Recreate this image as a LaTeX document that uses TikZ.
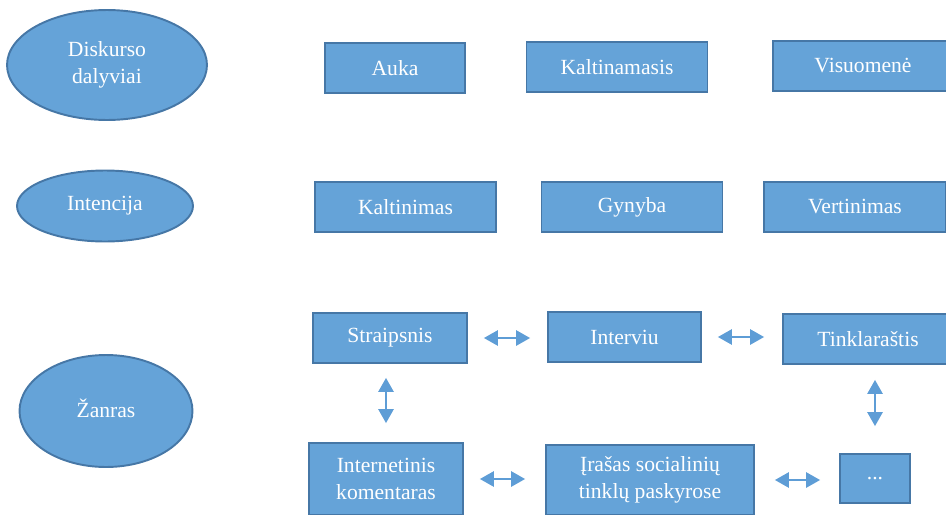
\documentclass[tikz,border=0pt]{standalone}
\usepackage{fontspec}
\setmainfont{Liberation Serif}
\usepackage{tikz}
\usepackage{xcolor}
\usetikzlibrary{
    arrows.meta,
    shapes,
    calc,
    positioning
}
\definecolor{boxfill}{HTML}{65A3D8}
\definecolor{boxline}{HTML}{4677A6}
\definecolor{arrowblue}{HTML}{5E9DD6}
\tikzset{
    base/.style={fill=boxfill, draw=boxline, line width=1.1pt, text=white, inner sep=0pt,
        align=center, font=\fontsize{12.3}{15.3}\selectfont},
    oval/.style={base, ellipse},
    box/.style={base, rectangle},
    twoway/.style={{Triangle[length=0.28cm,width=0.31cm]}-{Triangle[length=0.28cm,width=0.31cm]},
        draw=arrowblue, line width=0.75pt}
}

\begin{document}
\begin{tikzpicture}[x=0.02cm, y=-0.02cm]
    \useasboundingbox (0,0) rectangle (946,514);
    \clip (0,0) rectangle (946,514);
    \node[oval, minimum width=4cm, minimum height=2.2cm] (disk) at (107, 65) {Diskurso\\dalyviai};
    \node[oval, minimum width=3.52cm, minimum height=1.42cm] (inten) at (105, 206) {Intencija};
    \node[oval, minimum width=3.46cm, minimum height=2.24cm] (zanr) at (106, 411) {\raisebox{3pt}{Žanras}};

    \node[box, minimum width=2.8cm, minimum height=1cm] (auka) at (395, 68) {Auka};
    \node[box, minimum width=3.62cm, minimum height=1cm] (kltm) at (617, 67) {Kaltinamasis};
    \node[box, minimum width=3.6cm, minimum height=1cm] (visu) at (863, 66) {Visuomenė};

    \node[box, minimum width=3.62cm, minimum height=1cm] (kalt) at (405.5, 207) {Kaltinimas};
    \node[box, minimum width=3.62cm, minimum height=1cm] (gyn) at (632, 207) {Gynyba};
    \node[box, minimum width=3.64cm, minimum height=1cm] (vert) at (855, 207) {Vertinimas};

    \node[box, minimum width=3.08cm, minimum height=1cm] (strp) at (390, 338) {Straipsnis};
    \node[box, minimum width=3.06cm, minimum height=1cm] (intv) at (624.5, 337) {Interviu};
    \node[box, minimum width=3.4cm, minimum height=1cm] (tink) at (868, 339) {Tinklaraštis};
    \node[box, minimum width=3.08cm, minimum height=1.44cm] (ikom) at (386, 479) {Internetinis\\komentaras};
    \node[box, minimum width=4.16cm, minimum height=1.4cm] (iras) at (650, 480) {Įrašas socialinių\\tinklų paskyrose};
    \node[box, minimum width=1.4cm, minimum height=0.98cm] (dots) at (875, 478.5) {...};

    \draw[twoway, shorten <=0.32cm, shorten >=0.34cm] (strp.east) -- (strp.east -| intv.west);
    \draw[twoway, shorten <=0.32cm, shorten >=0.36cm] (intv.east) -- (intv.east -| tink.west);
    \draw[twoway, shorten <=0.32cm, shorten >=0.40cm] (ikom.east) -- (ikom.east -| iras.west);
    \draw[twoway, shorten <=0.40cm, shorten >=0.38cm] (iras.east) -- (iras.east -| dots.west);
    \draw[twoway, shorten <=0.28cm, shorten >=0.38cm] (strp.south -| ikom.north) -- (ikom.north);
    \draw[twoway, shorten <=0.30cm, shorten >=0.54cm] (tink.south -| dots.north) -- (dots.north);
\end{tikzpicture}
\end{document}
